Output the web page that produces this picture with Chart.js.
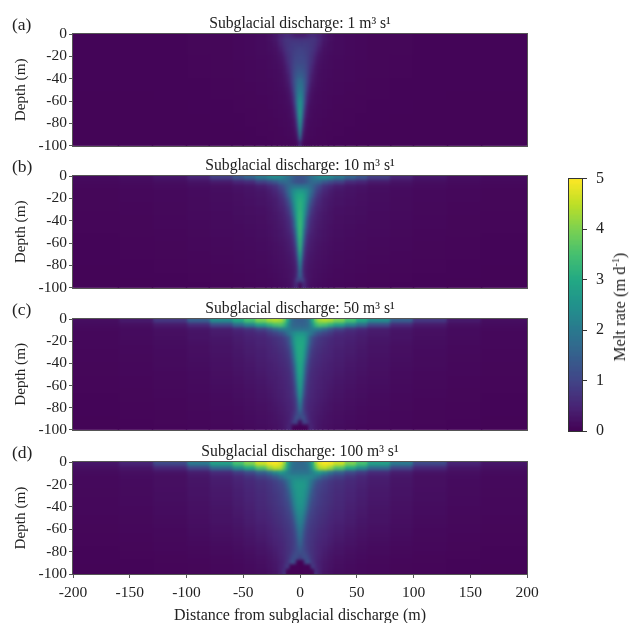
<!DOCTYPE html>
<html><head><meta charset="utf-8">
<script src="https://cdn.jsdelivr.net/npm/chart.js@4"></script>
<style>
html,body{margin:0;padding:0;background:#fff;width:630px;height:623px;overflow:hidden;font-family:"Liberation Serif",serif;color:#222}
canvas{position:absolute;left:0}
.t{position:absolute;white-space:nowrap}
sup{font-size:60%;line-height:0}
</style></head><body>
<script>
const colEdges=[0,2,4,6,8,10,13,16,20,25,30,40,50,60,80,100,130,160,200];
const rowDepths=[-2,-6,-10,-14,-18,-22,-26,-30,-34,-38,-42,-46,-50,-54,-58,-62,-66,-70,-74,-78,-82,-86,-90,-94,-98];
const titles=["Subglacial discharge: 1 m³ s¹","Subglacial discharge: 10 m³ s¹","Subglacial discharge: 50 m³ s¹","Subglacial discharge: 100 m³ s¹"];
const panelLetters=["(a)","(b)","(c)","(d)"];
const xTickLabels=[-200,-150,-100,-50,0,50,100,150,200];
const yTickLabels=[0,-20,-40,-60,-80,-100];
const colorbarTicks=[0,1,2,3,4,5];
const colorbarLevels=[.05,.15,.25,.35,.45,.55,.65,.75,.85,.95,1.05,1.15,1.25,1.35,1.45,1.55,1.65,1.75,1.85,1.95,2.05,2.15,2.25,2.35,2.45,2.55,2.65,2.75,2.85,2.95,3.05,3.15,3.25,3.35,3.45,3.55,3.65,3.75,3.85,3.95,4.05,4.15,4.25,4.35,4.45,4.55,4.65,4.75,4.85,4.95];
const viridisStops=["#440154","#482475","#414487","#355f8d","#2a788e","#21918c","#22a884","#44bf70","#7ad151","#bddf26","#fde725"];

const meltA=[
[.4,.4,.4,.5,.55,.6,.55,.45,.3,.2,.15,.12,.1,.08,.08,.06,.06,.06],
[.75,.75,.75,.75,.75,.75,.7,.5,.3,.2,.15,.12,.1,.08,.08,.06,.06,.06],
[.85,.85,.85,.85,.8,.75,.65,.45,.25,.18,.15,.12,.1,.08,.08,.06,.06,.06],
[.95,.95,.9,.85,.85,.75,.6,.38,.22,.18,.15,.12,.1,.08,.08,.06,.06,.06],
[1,1,.95,.9,.8,.7,.5,.3,.2,.16,.14,.12,.1,.08,.08,.06,.06,.06],
[1.05,1.05,1,.9,.8,.65,.42,.25,.18,.15,.13,.11,.1,.08,.07,.06,.06,.06],
[1.1,1.1,1.05,.9,.8,.6,.36,.22,.17,.14,.12,.1,.09,.08,.07,.06,.06,.06],
[1.2,1.2,1.1,.95,.75,.52,.3,.2,.16,.14,.12,.1,.09,.08,.07,.06,.06,.06],
[1.35,1.3,1.15,.95,.72,.45,.27,.18,.15,.13,.11,.1,.09,.08,.07,.06,.06,.06],
[1.5,1.4,1.25,.95,.65,.38,.24,.17,.15,.13,.11,.1,.09,.08,.07,.06,.06,.06],
[1.75,1.6,1.3,.95,.6,.35,.22,.17,.14,.12,.11,.1,.08,.07,.06,.06,.06,.06],
[1.9,1.7,1.3,.9,.5,.3,.2,.16,.13,.12,.1,.09,.08,.07,.06,.06,.06,.06],
[2,1.8,1.3,.8,.42,.26,.18,.15,.13,.11,.1,.09,.08,.07,.06,.06,.06,.06],
[2.2,1.9,1.2,.65,.35,.22,.16,.14,.12,.11,.1,.08,.08,.07,.06,.06,.05,.05],
[2.4,1.95,1.1,.55,.3,.2,.15,.13,.12,.1,.09,.08,.07,.07,.06,.06,.05,.05],
[2.6,2,1,.45,.25,.18,.15,.13,.11,.1,.09,.08,.07,.06,.06,.05,.05,.05],
[2.7,1.9,.85,.35,.2,.16,.14,.12,.11,.1,.08,.08,.07,.06,.06,.05,.05,.05],
[2.8,1.7,.65,.3,.2,.15,.13,.12,.1,.09,.08,.07,.07,.06,.06,.05,.05,.05],
[2.8,1.5,.5,.25,.18,.14,.12,.11,.1,.09,.08,.07,.06,.06,.05,.05,.05,.05],
[2.7,1.2,.35,.2,.16,.13,.12,.1,.09,.08,.08,.07,.06,.06,.05,.05,.05,.05],
[2.6,.9,.3,.2,.15,.12,.11,.1,.09,.08,.07,.07,.06,.05,.05,.05,.05,.05],
[2.4,.6,.25,.15,.13,.12,.1,.09,.08,.08,.07,.06,.06,.05,.05,.05,.05,.05],
[2.1,.4,.2,.14,.12,.11,.1,.09,.08,.07,.07,.06,.05,.05,.05,.05,.05,.05],
[1.5,.25,.15,.12,.11,.1,.09,.08,.08,.07,.06,.06,.05,.05,.05,.05,.05,.05],
[.6,.15,.1,.1,.09,.08,.08,.07,.07,.06,.06,.05,.05,.05,.05,.05,.05,.05]];

const meltB=[
[1.3,1.3,1.4,1.5,1.7,1.9,2.1,2.3,2.4,2.3,2,1.6,1.3,.9,.5,.3,.2,.15],
[1.2,1.2,1.3,1.4,1.6,1.7,1.7,1.6,1.3,1.1,.9,.6,.5,.35,.25,.18,.15,.12],
[1.9,1.9,1.9,1.9,1.8,1.6,1.3,1,.7,.55,.4,.3,.25,.2,.18,.15,.12,.1],
[2.7,2.6,2.5,2.3,2,1.6,1.1,.8,.55,.4,.3,.25,.22,.18,.15,.12,.1,.08],
[3,2.9,2.7,2.3,1.9,1.4,.9,.65,.45,.35,.28,.24,.2,.17,.15,.12,.1,.08],
[3.1,3,2.7,2.2,1.7,1.1,.75,.55,.4,.32,.25,.22,.2,.17,.14,.12,.1,.08],
[3.2,3,2.6,2,1.4,.95,.65,.5,.38,.3,.25,.22,.19,.16,.14,.11,.09,.08],
[3.2,3,2.5,1.8,1.2,.8,.55,.45,.35,.28,.22,.2,.18,.16,.14,.11,.09,.08],
[3.3,3,2.3,1.6,1,.7,.5,.4,.32,.26,.22,.2,.18,.15,.13,.11,.09,.07],
[3.3,3,2.1,1.3,.85,.6,.45,.38,.3,.25,.2,.18,.17,.15,.13,.1,.08,.07],
[3.4,2.9,1.9,1.1,.75,.55,.42,.35,.28,.24,.2,.18,.16,.14,.12,.1,.08,.07],
[3.4,2.8,1.7,1,.65,.5,.4,.33,.27,.22,.19,.17,.15,.14,.12,.1,.08,.07],
[3.4,2.6,1.4,.85,.6,.45,.37,.3,.25,.22,.18,.16,.15,.13,.11,.09,.08,.07],
[3.4,2.4,1.2,.7,.5,.42,.35,.3,.25,.21,.18,.16,.14,.13,.11,.09,.08,.06],
[3.3,2.2,1,.6,.45,.38,.32,.28,.24,.2,.17,.15,.14,.12,.1,.09,.07,.06],
[3.3,1.9,.85,.55,.42,.35,.3,.26,.22,.19,.16,.15,.13,.12,.1,.08,.07,.06],
[3.2,1.6,.7,.48,.38,.33,.28,.24,.21,.18,.16,.14,.13,.11,.1,.08,.07,.06],
[3,1.35,.6,.42,.35,.3,.26,.23,.2,.17,.15,.13,.12,.11,.09,.08,.07,.06],
[2.7,1.1,.5,.38,.32,.28,.24,.22,.19,.16,.14,.13,.12,.1,.09,.08,.07,.06],
[2.4,.85,.42,.35,.3,.25,.22,.2,.18,.16,.14,.12,.11,.1,.09,.07,.06,.06],
[2.1,.7,.4,.32,.28,.24,.21,.19,.17,.15,.13,.12,.1,.09,.08,.07,.06,.05],
[1.8,.65,.38,.3,.26,.22,.2,.18,.16,.14,.12,.11,.1,.09,.08,.07,.06,.05],
[1.6,.8,.38,.3,.25,.21,.19,.17,.15,.13,.12,.1,.09,.08,.07,.06,.06,.05],
[.9,1.1,.5,.3,.24,.2,.18,.16,.14,.12,.11,.1,.09,.08,.07,.06,.05,.05],
[.05,.6,.5,.3,.22,.19,.17,.15,.13,.12,.1,.09,.08,.07,.06,.06,.05,.05]];

const meltC=[
[1.5,1.5,1.6,1.7,2,3,3.9,4.3,4.4,4.3,4,3.5,3,2.4,1.5,.8,.35,.2],
[1.6,1.6,1.6,1.7,1.9,2.5,3.3,3.6,3.5,3.2,2.8,2.2,1.7,1.1,.6,.35,.2,.15],
[1.9,1.9,1.9,1.9,2,2.1,2.1,2,1.7,1.3,.95,.7,.55,.4,.3,.22,.15,.12],
[2.6,2.6,2.5,2.3,2.1,1.8,1.4,1.15,.95,.8,.6,.5,.42,.35,.25,.2,.15,.1],
[2.9,2.9,2.7,2.3,1.7,1.2,.95,.8,.7,.6,.5,.45,.38,.3,.25,.18,.14,.1],
[3,3,2.7,2.2,1.6,1.1,.85,.75,.65,.55,.48,.42,.35,.28,.22,.17,.13,.1],
[3.05,3,2.6,2,1.4,.95,.78,.7,.6,.52,.45,.4,.33,.26,.2,.16,.12,.1],
[3.05,2.95,2.45,1.8,1.2,.85,.72,.65,.56,.5,.43,.38,.31,.25,.2,.15,.12,.09],
[3.05,2.9,2.3,1.6,1.05,.78,.68,.6,.52,.48,.42,.36,.3,.24,.19,.15,.11,.09],
[3.05,2.8,2.1,1.4,.92,.72,.64,.58,.5,.45,.4,.34,.28,.23,.18,.14,.11,.09],
[3,2.7,1.9,1.2,.85,.68,.6,.54,.47,.43,.38,.32,.27,.22,.17,.14,.1,.08],
[3,2.6,1.7,1.05,.78,.64,.56,.5,.45,.42,.36,.3,.25,.21,.16,.13,.1,.08],
[2.95,2.5,1.55,.95,.72,.6,.54,.48,.43,.4,.34,.28,.24,.2,.15,.12,.1,.08],
[2.9,2.35,1.4,.88,.68,.58,.52,.46,.41,.38,.32,.27,.22,.19,.15,.12,.09,.07],
[2.85,2.2,1.25,.82,.65,.56,.5,.45,.4,.36,.3,.25,.21,.18,.14,.11,.09,.07],
[2.8,2,1.1,.76,.62,.55,.49,.44,.39,.34,.28,.24,.2,.17,.13,.11,.09,.07],
[2.7,1.8,1,.72,.6,.53,.47,.43,.37,.32,.27,.22,.19,.16,.13,.1,.08,.07],
[2.6,1.55,.9,.68,.58,.51,.46,.41,.35,.3,.25,.21,.18,.15,.12,.1,.08,.06],
[2.4,1.3,.8,.64,.55,.49,.44,.39,.33,.28,.24,.2,.17,.14,.12,.09,.08,.06],
[2.1,1.15,.75,.6,.52,.47,.42,.37,.31,.26,.22,.19,.16,.14,.11,.09,.07,.06],
[1.85,1.05,.75,.58,.5,.45,.4,.35,.29,.25,.21,.18,.15,.13,.11,.09,.07,.06],
[1.45,1.1,.85,.62,.5,.43,.38,.33,.27,.23,.2,.17,.14,.12,.1,.08,.07,.06],
[.95,1.35,1,.7,.5,.42,.36,.31,.26,.22,.19,.16,.13,.12,.1,.08,.07,.05],
[.03,.9,1.05,.85,.55,.42,.35,.29,.24,.21,.18,.15,.13,.11,.09,.08,.06,.05],
[.03,.03,.03,.03,.6,.45,.34,.27,.23,.2,.17,.14,.12,.1,.09,.07,.06,.05]];

const meltD=[
[1.7,1.7,1.8,1.9,2.2,3,4.2,4.8,4.95,4.9,4.6,4,3.5,2.8,2,1.1,.5,.3],
[1.7,1.7,1.7,1.8,2,2.7,3.7,4.4,4.5,4.2,3.6,3,2.4,1.7,1,.55,.3,.2],
[1.9,1.9,1.9,1.9,2,2.2,2.5,2.6,2.3,1.9,1.5,1.1,.85,.6,.4,.25,.2,.15],
[2.3,2.3,2.3,2.3,2.3,2.2,2,1.7,1.35,1.1,.9,.7,.55,.42,.3,.2,.16,.12],
[2.6,2.6,2.55,2.4,2.2,1.8,1.4,1.15,.95,.8,.7,.58,.48,.38,.28,.2,.15,.12],
[2.7,2.7,2.6,2.4,2.1,1.6,1.2,1,.88,.75,.65,.55,.45,.36,.27,.2,.15,.12],
[2.7,2.65,2.5,2.3,1.9,1.4,1.1,.95,.85,.72,.62,.52,.43,.34,.26,.19,.14,.11],
[2.7,2.6,2.45,2.15,1.7,1.3,1.05,.9,.8,.7,.6,.5,.42,.33,.25,.18,.14,.11],
[2.65,2.55,2.35,2,1.55,1.2,1,.88,.78,.68,.58,.48,.4,.32,.24,.18,.13,.1],
[2.6,2.5,2.25,1.85,1.4,1.1,.96,.85,.75,.65,.56,.46,.38,.3,.23,.17,.13,.1],
[2.5,2.4,2.1,1.65,1.25,1.02,.9,.8,.72,.62,.54,.44,.36,.28,.22,.16,.12,.1],
[2.4,2.25,1.9,1.45,1.12,.96,.86,.76,.68,.58,.5,.42,.34,.27,.21,.16,.12,.1],
[2.3,2.1,1.7,1.25,1.02,.9,.82,.72,.65,.55,.48,.4,.32,.26,.2,.15,.11,.09],
[2.2,1.95,1.5,1.1,.95,.85,.78,.68,.62,.52,.45,.38,.3,.25,.19,.14,.11,.09],
[2.05,1.8,1.3,1,.9,.8,.74,.65,.58,.48,.42,.35,.28,.23,.18,.13,.1,.08],
[1.95,1.6,1.15,.95,.85,.76,.7,.6,.54,.45,.4,.32,.26,.22,.17,.12,.1,.08],
[1.85,1.45,1.05,.9,.82,.74,.66,.58,.52,.44,.37,.3,.24,.2,.16,.12,.09,.07],
[1.7,1.35,1,.88,.8,.72,.62,.55,.48,.42,.34,.27,.22,.18,.15,.11,.09,.07],
[1.55,1.25,.98,.86,.78,.7,.6,.52,.45,.38,.3,.25,.2,.16,.13,.1,.08,.07],
[1.4,1.15,1,.88,.78,.68,.58,.5,.42,.34,.27,.22,.18,.15,.12,.1,.08,.06],
[1.2,1.15,1.1,.95,.8,.68,.58,.48,.38,.3,.25,.2,.16,.14,.11,.09,.07,.06],
[.9,1.15,1.2,1.1,.9,.7,.55,.45,.35,.28,.22,.18,.15,.12,.1,.08,.07,.06],
[.03,.03,1,1.3,1.1,.75,.55,.42,.32,.26,.2,.16,.13,.11,.09,.08,.06,.06],
[.03,.03,.03,.03,.03,.9,.6,.42,.3,.24,.18,.15,.12,.1,.08,.07,.06,.05],
[.03,.03,.03,.03,.03,.03,.7,.42,.28,.22,.17,.14,.12,.1,.08,.07,.06,.05]];
const panels=[meltA,meltB,meltC,meltD];
const panelTops=[34,176,319,462];
const panelHeights=[113,113,112,112];

function viridis(v){
  const t=Math.max(0,Math.min(1,v/5))*(viridisStops.length-1),i=Math.min(Math.floor(t),viridisStops.length-2),f=t-i;
  const p=(h,k)=>parseInt(h.substr(1+2*k,2),16);
  return "rgb("+[0,1,2].map(k=>Math.round(p(viridisStops[i],k)*(1-f)+p(viridisStops[i+1],k)*f)).join(",")+")";
}
const smooth=sigma=>({id:"smooth",afterDatasetsDraw(c){
  const a=c.chartArea,x=c.ctx,l=Math.round(a.left),t=Math.round(a.top),w=Math.round(a.width),h=Math.round(a.height);
  const off=document.createElement("canvas");off.width=w;off.height=h;
  off.getContext("2d").drawImage(c.canvas,l,t,w,h,0,0,w,h);
  x.save();x.beginPath();x.rect(l,t,w,h);x.clip();x.filter="blur("+sigma+"px)";x.drawImage(off,l,t);x.restore();
}});
const frame=color=>({id:"frame",afterDatasetsDraw(c){const a=c.chartArea,x=c.ctx;x.save();x.strokeStyle=color;x.lineWidth=1;
  x.strokeRect(Math.round(a.left)-.5,Math.round(a.top)-.5,Math.round(a.width)+1,Math.round(a.height)+1);x.restore();}});
Chart.defaults.font.family="'Liberation Serif'";
Chart.defaults.color="#222";
Chart.defaults.animation=false;
const TITLE_H=20;

panels.forEach((grid,p)=>{
  const isLast=p===3,bottom=isLast?51:10;
  const cv=document.createElement("canvas");
  cv.style.top=(panelTops[p]-TITLE_H)+"px";
  cv.style.width="600px";cv.style.height=(TITLE_H+panelHeights[p]+bottom)+"px";
  cv.width=600;cv.height=TITLE_H+panelHeights[p]+bottom;
  document.body.appendChild(cv);
  const cells=[],colors=[];
  grid.forEach((row,r)=>row.forEach((v,c)=>{
    [[colEdges[c],colEdges[c+1]],[-colEdges[c+1],-colEdges[c]]].forEach(span=>{
      cells.push({x:span,y:rowDepths[r]});colors.push(viridis(v));
    });
  }));
  new Chart(cv,{type:"bar",plugins:[smooth(1.4),frame("#555")],
    data:{datasets:[{data:cells,backgroundColor:colors,borderWidth:0,inflateAmount:.7,barPercentage:1,categoryPercentage:1,grouped:false}]},
    options:{indexAxis:"y",responsive:false,layout:{padding:{right:73}},
      plugins:{legend:{display:false},tooltip:{enabled:false},
        title:{display:true,fullSize:false,text:titles[p],color:"#222",font:{size:15.7,weight:"normal",lineHeight:1.2},padding:{top:0,bottom:1.2}}},
      scales:{
        x:{type:"linear",min:-200,max:200,offset:false,border:{display:false},
          afterBuildTicks:s=>{s.ticks=xTickLabels.map(value=>({value}));},
          grid:{display:isLast,drawOnChartArea:false,tickLength:4,color:"#555"},
          ticks:{display:isLast,font:{size:15.5},padding:6,maxRotation:0,autoSkip:false},
          title:{display:isLast,text:"Distance from subglacial discharge (m)",font:{size:16},padding:{top:3,bottom:0}},
          afterFit:s=>{s.height=bottom;}},
        y:{type:"linear",min:-100,max:0,offset:false,border:{display:false},
          afterBuildTicks:s=>{s.ticks=yTickLabels.map(value=>({value}));},
          grid:{offset:false,drawOnChartArea:false,tickLength:4,color:"#555"},
          ticks:{font:{size:15.5},padding:2,autoSkip:false},
          title:{display:true,text:"Depth (m)",font:{size:15.2},padding:{top:12,bottom:0}},
          afterFit:s=>{s.width=73;}}
      }}});
  const lab=document.createElement("div");lab.className="t";lab.textContent=panelLetters[p];
  lab.style.cssText="left:12px;top:"+(panelTops[p]-20)+"px;font-size:17.5px";
  document.body.appendChild(lab);
});

/* colorbar */
const cb=document.createElement("canvas");
cb.style.cssText="left:560px;top:160px;width:70px;height:290px";cb.width=70;cb.height=290;
document.body.appendChild(cb);
new Chart(cb,{type:"bar",plugins:[smooth(1.2),frame("#333")],
  data:{datasets:[{data:colorbarLevels.map(v=>({x:[0,1],y:v})),backgroundColor:colorbarLevels.map(viridis),borderWidth:0,inflateAmount:.7,barPercentage:1,categoryPercentage:1,grouped:false}]},
  options:{indexAxis:"y",responsive:false,layout:{padding:{left:9,top:17,bottom:19}},
    plugins:{legend:{display:false},tooltip:{enabled:false},title:{display:false}},
    scales:{
      x:{type:"linear",min:0,max:1,display:false},
      y:{type:"linear",position:"right",min:0,max:5,offset:false,border:{display:false},
        afterBuildTicks:s=>{s.ticks=colorbarTicks.map(value=>({value}));},
        grid:{offset:false,drawOnChartArea:false,tickLength:5,color:"#333"},
        ticks:{font:{size:16},padding:9,autoSkip:false},
        afterFit:s=>{s.width=48;}}
    }}});
const cbt=document.createElement("div");cbt.className="t";cbt.innerHTML="Melt rate (m d<sup>-1</sup>)";
cbt.style.cssText="left:620px;top:307px;font-size:16.5px;transform:translate(-50%,-50%) rotate(-90deg)";
document.body.appendChild(cbt);
</script>
</body></html>
